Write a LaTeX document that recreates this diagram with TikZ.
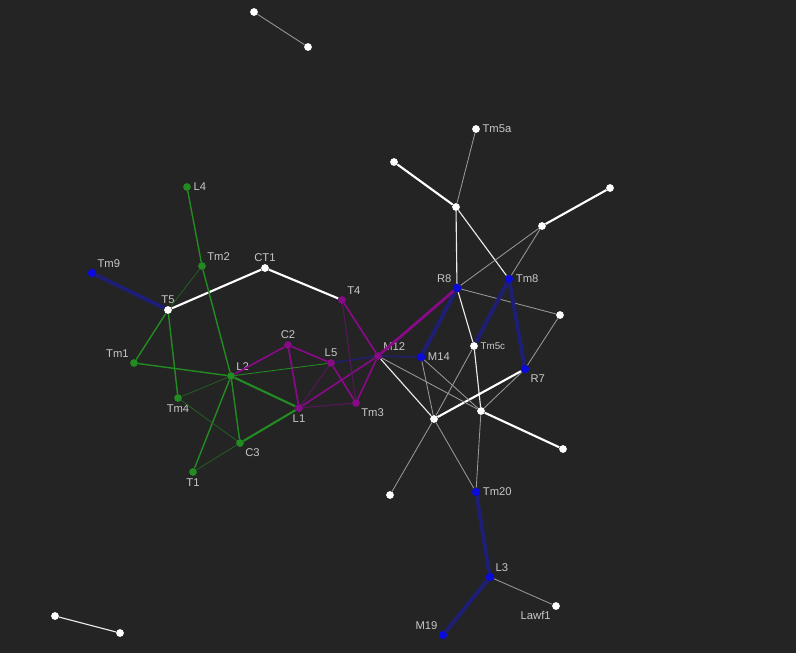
\documentclass[tikz,border=0pt]{standalone}
\usepackage{fontspec}
\setmainfont{Liberation Sans}

\definecolor{bgdark}{RGB}{36,36,36}
\definecolor{grn}{RGB}{34,139,34}
\definecolor{prp}{RGB}{135,10,135}
\definecolor{blu}{RGB}{10,10,220}
\definecolor{bluline}{RGB}{30,30,118}
\definecolor{txt}{RGB}{200,200,200}

\tikzset{
    dot/.style={circle, inner sep=0pt, minimum size=5.5pt},
    wdot/.style={dot, fill=white},
    gdot/.style={dot, fill=grn},
    pdot/.style={dot, fill=prp},
    bdot/.style={dot, fill=blu, minimum size=6pt},
    lbl/.style={text=txt, font=\footnotesize, inner sep=1.5pt},
    wthick/.style={white, line width=1.5pt},
    wmid/.style={white!85!gray, line width=0.8pt},
    wthin/.style={gray!80!white, line width=0.6pt},
    gline/.style={grn, line width=1pt},
    gfaint/.style={grn!55!bgdark, line width=0.6pt},
    pline/.style={prp, line width=1.2pt},
    pfaint/.style={prp!50!bgdark, line width=0.8pt},
    bline/.style={bluline, line width=2.8pt},
    bfaint/.style={bluline!75!bgdark, line width=1.4pt},
}

\begin{document}
\begin{tikzpicture}[x=0.025cm, y=-0.025cm]

    % Background
    \fill[bgdark] (0,0) rectangle (796,653);
    \useasboundingbox (0,0) rectangle (796,653);

    % Loose pairs
    \node[wdot] (a1) at (254,12) {};
    \node[wdot] (a2) at (308,47) {};
    \node[wdot] (b1) at (55,616) {};
    \node[wdot] (b2) at (120,633) {};

    % Left group
    \node[bdot, label={[lbl]above right:Tm9}] (tm9) at (92,273) {};
    \node[wdot, label={[lbl]above:T5}] (t5) at (168,310) {};
    \node[wdot, label={[lbl]above:CT1}] (ct1) at (265,268) {};
    \node[gdot, label={[lbl]right:L4}] (l4) at (187,187) {};
    \node[gdot, label={[lbl]above right:Tm2}] (tm2) at (202,266) {};
    \node[gdot, label={[lbl]above left:Tm1}] (tm1) at (134,363) {};
    \node[gdot, label={[lbl]above right:L2}] (l2) at (231,376) {};
    \node[gdot, label={[lbl]below:Tm4}] (tm4) at (178,398) {};
    \node[gdot, label={[lbl]below right:C3}] (c3) at (240,443) {};
    \node[gdot, label={[lbl]below:T1}] (t1) at (193,472) {};

    % Middle group
    \node[pdot, label={[lbl]above right:T4}] (t4) at (342,300) {};
    \node[pdot, label={[lbl]above:C2}] (c2) at (288,345) {};
    \node[pdot, label={[lbl]above:L5}] (l5) at (331,363) {};
    \node[pdot, label={[lbl]above right:M12}] (m12) at (378,356) {};
    \node[pdot, label={[lbl]below:L1}] (l1) at (299,408) {};
    \node[pdot, label={[lbl]below right:Tm3}] (tm3) at (356,403) {};

    % Right group
    \node[wdot, label={[lbl]right:Tm5a}] (tm5a) at (476,129) {};
    \node[wdot] (w1) at (394,162) {};
    \node[wdot] (w2) at (456,207) {};
    \node[wdot] (w3) at (610,188) {};
    \node[wdot] (w4) at (542,226) {};
    \node[wdot] (w5) at (560,315) {};
    \node[bdot, label={[lbl]above left:R8}] (r8) at (457,288) {};
    \node[bdot, label={[lbl]right:Tm8}] (tm8) at (509,279) {};
    \node[wdot, label={[lbl, font=\scriptsize]right:Tm5c}] (tm5c) at (474,346) {};
    \node[bdot, label={[lbl]right:M14}] (m14) at (421,357) {};
    \node[bdot, label={[lbl]below right:R7}] (r7) at (525,369) {};
    \node[wdot] (w6) at (434,419) {};
    \node[wdot] (w7) at (481,411) {};
    \node[wdot] (w8) at (563,449) {};
    \node[wdot] (w9) at (390,495) {};
    \node[bdot, label={[lbl]right:Tm20}] (tm20) at (476,492) {};
    \node[bdot, label={[lbl]above right:L3}] (l3) at (490,577) {};
    \node[bdot, label={[lbl]above left:M19}] (m19) at (443,635) {};
    \node[wdot, label={[lbl]below left:Lawf1}] (law) at (556,606) {};

    % White links
    \draw[wthin] (a1) -- (a2);
    \draw[wmid] (b1) -- (b2);
    \draw[wthick] (t5) -- (ct1);
    \draw[wthick] (ct1) -- (t4);
    \draw[wthin] (tm5a) -- (w2);
    \draw[wthick] (w1) -- (w2);
    \draw[wmid] (w2) -- (r8);
    \draw[wmid] (w2) -- (tm8);
    \draw[wthick] (w3) -- (w4);
    \draw[wthin] (w4) -- (r8);
    \draw[wthin] (w4) -- (tm8);
    \draw[wthin] (r8) -- (w5);
    \draw[wthin] (w5) -- (r7);
    \draw[wmid] (r8) -- (tm5c);
    \draw[wmid] (tm5c) -- (w7);
    \draw[wthin] (w7) -- (tm20);
    \draw[wthin] (tm5c) -- (w6);
    \draw[wthin] (w6) -- (w9);
    \draw[wthick] (w6) -- (r7);
    \draw[wthick] (w7) -- (w8);
    \draw[wthin] (w7) -- (r7);
    \draw[wmid] (m12) -- (w6);
    \draw[wthin] (m12) -- (w7);
    \draw[wthin] (m14) -- (w6);
    \draw[wthin] (m14) -- (w7);
    \draw[wthin] (w6) -- (tm20);
    \draw[wthin] (l3) -- (law);

    % Blue links
    \draw[bline] (tm9) -- (t5);
    \draw[bline] (r8) -- (m14);
    \draw[bline] (tm8) -- (tm5c);
    \draw[bline] (tm8) -- (r7);
    \draw[bline] (tm20) -- (l3);
    \draw[bline] (l3) -- (m19);
    \draw[bfaint] (m12) -- (m14);
    \draw[bfaint] (l5) -- (m12);

    % Purple links
    \draw[pline, line width=2pt] (m12) -- (r8);
    \draw[pline] (t4) -- (m12);
    \draw[pline] (c2) -- (l5);
    \draw[pline] (c2) -- (l1);
    \draw[pline] (c2) -- (l2);
    \draw[pline] (l5) -- (tm3);
    \draw[pline] (l1) -- (m12);
    \draw[pline] (tm3) -- (m12);
    \draw[pfaint] (t4) -- (tm3);
    \draw[pfaint] (l1) -- (tm3);
    \draw[pfaint] (l1) -- (l5);

    % Green links
    \draw[gline] (l4) -- (tm2);
    \draw[gline] (tm2) -- (l2);
    \draw[gfaint] (tm2) -- (t5);
    \draw[gline] (t5) -- (tm1);
    \draw[gline] (t5) -- (tm4);
    \draw[gline] (tm1) -- (l2);
    \draw[gline, line width=1.5pt] (l2) -- (l1);
    \draw[gline] (l2) -- (c3);
    \draw[gline] (l2) -- (t1);
    \draw[gline, line width=1.5pt] (c3) -- (l1);
    \draw[gline, line width=0.6pt] (l2) -- (l5);
    \draw[gfaint] (l2) -- (tm4);
    \draw[gfaint] (tm4) -- (c3);
    \draw[gfaint] (c3) -- (t1);

\end{tikzpicture}
\end{document}
